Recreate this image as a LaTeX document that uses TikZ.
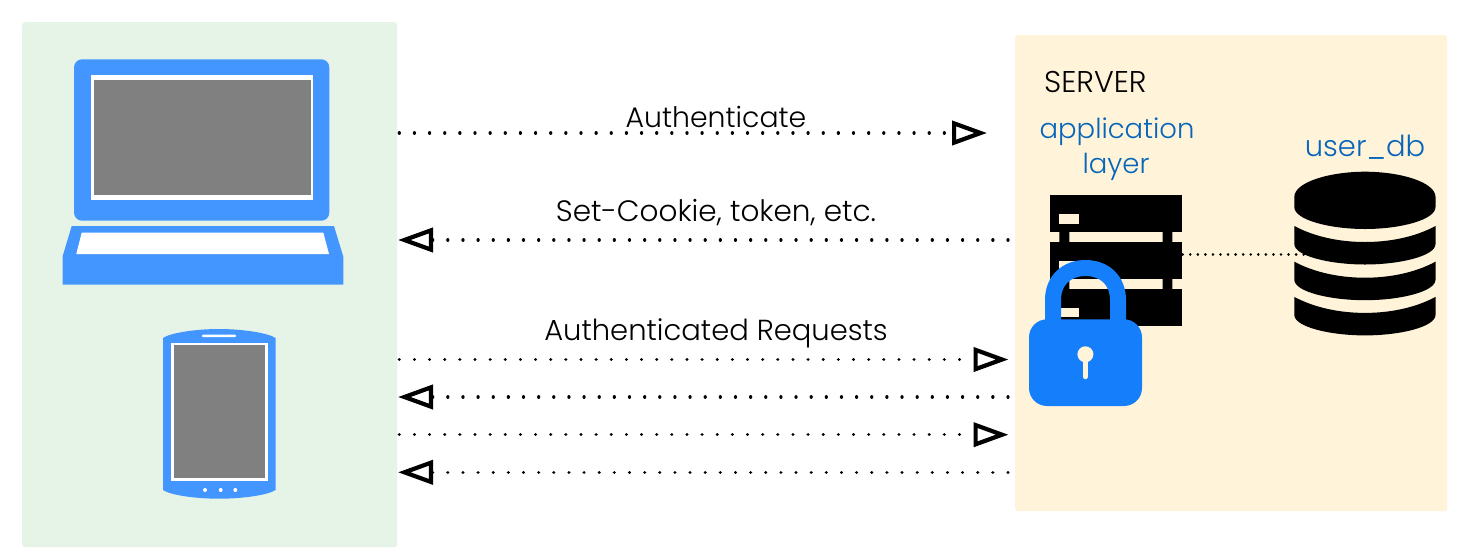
\documentclass[tikz,border=0pt]{standalone}
\usepackage{fontspec}
\usetikzlibrary{arrows.meta}
\setmainfont{Poppins Light}
\definecolor{gbg}{HTML}{E6F4E8}
\definecolor{ybg}{HTML}{FFF4D9}
\definecolor{dev}{HTML}{4396FF}
\definecolor{lockc}{HTML}{157EFB}
\definecolor{lbl}{HTML}{0766BA}
\definecolor{scr}{HTML}{808080}
\tikzset{x=1pt,y=-1pt,
 flow/.style={line width=3.3pt,line cap=round,dash pattern=on 0.01pt off 15.13pt,
   -{Triangle[open,length=35pt,width=24pt,line width=4.2pt,fill=white]}},
 link/.style={line width=2.8pt,line cap=round,dash pattern=on 0.01pt off 7.55pt},
 txt/.style={font=\fontsize{29}{34}\selectfont,inner sep=0pt,anchor=base},
 blue/.style={txt,text=lbl,font=\fontsize{28}{33}\selectfont}}
\begin{document}
\begin{tikzpicture}
\useasboundingbox (0,0) rectangle (1472,555);
\fill[white] (0,0) rectangle (1472,555);
\node[fill=gbg,rounded corners=3pt,minimum width=375pt,minimum height=525pt,inner sep=0pt,anchor=north west] (client) at (22,22) {};
\node[fill=ybg,rounded corners=3pt,minimum width=432pt,minimum height=476pt,inner sep=0pt,anchor=north west] (server) at (1015,35) {};
% laptop
\fill[dev,rounded corners=8pt] (74,59.3) rectangle (329.3,220.7);
\fill[white] (91,75) rectangle (313.3,200);
\fill[scr] (93.7,79.7) rectangle (311,195.3);
\fill[dev] (71.7,226) -- (334,226) -- (343.3,256.7) -- (343.3,284.5) -- (62.5,284.5) -- (62.5,256.7) -- cycle;
\fill[white] (81.7,232.5) -- (323.3,232.5) -- (329,254) -- (76.3,254) -- cycle;
% tablet
\fill[dev] (163,338) .. controls (170,333) and (195,329) .. (219,329) .. controls (243,329) and (268,333) .. (275.7,338) -- (275.7,490) .. controls (268,495) and (243,498.7) .. (219,498.7) .. controls (195,498.7) and (170,495) .. (163,490) -- cycle;
\fill[white,rounded corners=1pt] (202,334.7) rectangle (236,337.2);
\fill[white] (171,343) rectangle (268,481);
\fill[scr] (173.7,345) rectangle (265,478);
\fill[white] (205,490) circle (2pt) (220.7,490) circle (2pt) (235.3,490) circle (2pt);
% server icon
\fill[black] (1050.3,195) rectangle (1181.7,232.3);
\fill[black] (1050.3,242.3) rectangle (1181.7,279.3);
\fill[black] (1050.3,289) rectangle (1181.7,326.3);
\fill[black] (1059.3,232) rectangle (1069.3,243) (1162.7,232) rectangle (1172.3,243);
\fill[black] (1059.3,279) rectangle (1069.3,290) (1162.7,279) rectangle (1172.3,290);
\fill[ybg] (1059.3,214) rectangle (1078.7,223.7);
\fill[ybg] (1059.3,261) rectangle (1078.7,270.7);
\fill[ybg] (1059.3,307.7) rectangle (1078.7,317.2);
% db
\fill[black] (1294.3,197) .. controls (1294.3,182) and (1330,171.7) .. (1365,171.7) .. controls (1400,171.7) and (1435.5,182) .. (1435.5,197) -- (1435.5,207) .. controls (1435.5,220) and (1400,229) .. (1365,229) .. controls (1330,229) and (1294.3,220) .. (1294.3,207) -- cycle;
\foreach \yy in {226,261.7,296.9}{
\fill[black] (1294.3,\yy) .. controls (1315,\yy+11) and (1340,\yy+16) .. (1365,\yy+16) .. controls (1390,\yy+16) and (1415,\yy+11) .. (1435.5,\yy) -- (1435.5,\yy+18) .. controls (1435.5,\yy+30) and (1400,\yy+38.5) .. (1365,\yy+38.5) .. controls (1330,\yy+38.5) and (1294.3,\yy+30) .. (1294.3,\yy+18) -- cycle;}
% connector ends
\coordinate (a1) at (399.3,133); \coordinate (b1) at (987,133);
\coordinate (a2) at (1008,240); \coordinate (b2) at (398,240);
\coordinate (a3) at (399.3,359.5); \coordinate (b3) at (1008.5,359.5);
\coordinate (a4) at (1008,397); \coordinate (b4) at (398,397);
\coordinate (a5) at (399.3,434.7); \coordinate (b5) at (1008.5,434.7);
\coordinate (a6) at (1008,472.3); \coordinate (b6) at (398,472.3);
\coordinate (a7) at (1182.7,254.3); \coordinate (b7) at (1306,254.3);
\foreach \s/\e in {a1/b1,a2/b2,a3/b3,a4/b4,a5/b5,a6/b6}{
 \draw[flow] (\s) -- (\e);
}
\draw[link] (a7) -- (b7);
% lock
\draw[lockc,line width=16pt] (1053,325) -- (1053,300) .. controls (1053,280) and (1067,268) .. (1085.5,268) .. controls (1104,268) and (1118,280) .. (1118,300) -- (1118,325);
\fill[lockc,rounded corners=18pt] (1029,319.3) rectangle (1142,406);
\fill[ybg] (1085.4,354.3) circle (8pt);
\draw[ybg,line width=5.5pt,line cap=round] (1085.4,358) -- (1085.4,376.5);
% labels
\node[txt,font=\fontsize{28.3}{34}\selectfont] (t1) at (716,127) {Authenticate};
\node[txt,font=\fontsize{29.5}{34}\selectfont] (t2) at (716,221.7) {Set-Cookie, token, etc.};
\node[txt] (t3) at (716,340.7) {Authenticated Requests};
\node[txt,anchor=base west,font=\fontsize{30}{34}\selectfont] (t4) at (1044,92.7) {SERVER};
\node[blue,font=\fontsize{27.5}{33}\selectfont] (t5) at (1117,138.7) {application};
\node[blue,font=\fontsize{27.5}{33}\selectfont] (t6) at (1116,173) {layer};
\node[blue,font=\fontsize{29}{34}\selectfont] (t7) at (1365,156) {user\_db};
\end{tikzpicture}
\end{document}
